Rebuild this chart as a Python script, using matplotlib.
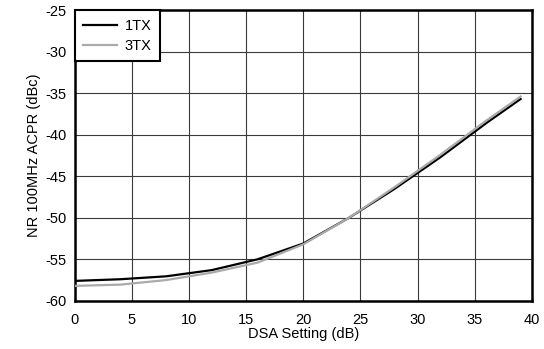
import numpy as np
import matplotlib
matplotlib.use("Agg")
import matplotlib.pyplot as plt

plt.rcParams['font.family'] = ['Liberation Sans', 'DejaVu Sans']
plt.rcParams['axes.unicode_minus'] = False

# DSA 设置 (dB)
dsa = [0, 4, 8, 12, 16, 20, 24, 28, 32, 36, 39]
# ACPR 数据 (dBc)
acpr_1tx = [-57.6, -57.4, -57.05, -56.3, -55.0, -53.1, -50.0, -46.5, -42.7, -38.6, -35.7]
acpr_3tx = [-58.2, -58.05, -57.5, -56.6, -55.4, -53.2, -50.0, -46.3, -42.4, -38.3, -35.4]

fig = plt.figure(figsize=(5.44, 3.49), dpi=100)
ax = fig.add_axes([0.137, 0.138, 0.841, 0.833])

ax.plot(dsa, acpr_1tx, color='black', lw=1.6, label='1TX', zorder=3)
ax.plot(dsa, acpr_3tx, color='#aaaaaa', lw=1.6, label='3TX', zorder=3)

ax.set_xlim(0, 40)
ax.set_ylim(-60, -25)
ax.set_xticks(np.arange(0, 41, 5))
ax.set_yticks(np.arange(-60, -24, 5))
ax.grid(True, color='#3a3a3a', lw=0.8)
ax.tick_params(axis='x', length=0, labelsize=10.5, pad=8.5)
ax.tick_params(axis='y', length=0, labelsize=10.5, pad=6)
for s in ax.spines.values():
    s.set_linewidth(1.8)

ax.set_xlabel("DSA Setting (dB)", fontsize=10.5, labelpad=0)
ax.set_ylabel("NR 100MHz ACPR (dBc)", fontsize=10.5, labelpad=3)

leg = ax.legend(loc='upper left', fontsize=10.5, fancybox=False, framealpha=1,
                borderaxespad=0, handlelength=2.3, handletextpad=0.55,
                borderpad=0.6, labelspacing=0.4)
leg.get_frame().set_edgecolor('black')
leg.get_frame().set_linewidth(1.5)

fig.savefig("out.png", dpi=100)
